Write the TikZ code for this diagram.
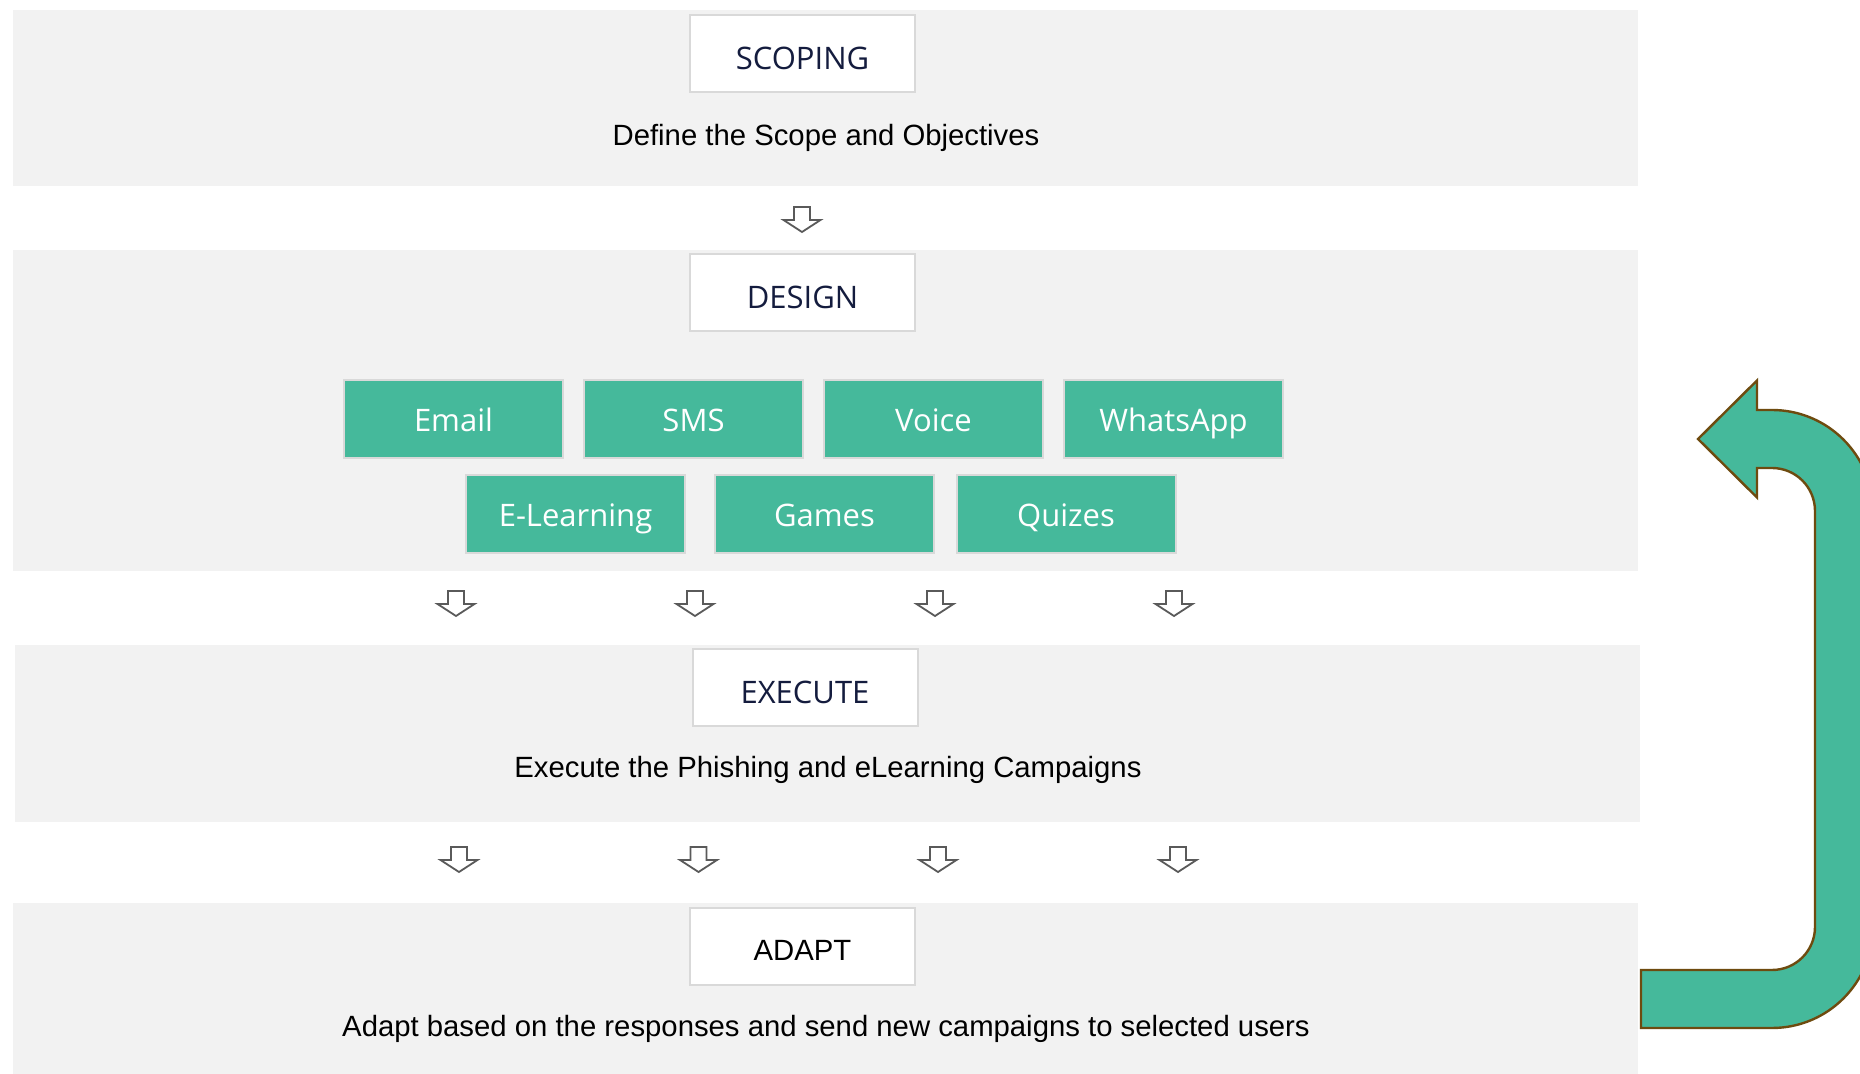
\documentclass[tikz,border=0pt]{standalone}
\usepackage{fontspec}
\setmainfont{Liberation Sans}
\newfontfamily\segoe{Open Sans}
\usepackage{tikz}
\usetikzlibrary{calc,positioning}
\definecolor{bandgray}{HTML}{F2F2F2}
\definecolor{boxline}{HTML}{D9D9D9}
\definecolor{chanfill}{RGB}{69,185,155}
\definecolor{navy}{RGB}{20,28,62}
\definecolor{arrowgray}{RGB}{90,90,90}
\definecolor{loopline}{RGB}{110,75,15}
\tikzset{
  band/.style={fill=bandgray,draw=none},
  stage/.style={draw=boxline,line width=1pt,fill=white,minimum width=112.5pt,minimum height=38.5pt,inner sep=0pt,text height=16pt,text depth=0pt,font=\segoe\fontsize{15.5}{18}\selectfont,text=navy},
  chan/.style={draw=boxline,line width=1pt,fill=chanfill,minimum width=109.5pt,minimum height=39pt,inner sep=0pt,text height=12.5pt,text depth=0pt,font=\segoe\fontsize{15.5}{18}\selectfont,text=white},
  desc/.style={font=\fontsize{14.65}{17}\selectfont,text=black},
  downarr/.pic={\draw[fill=white,draw=arrowgray,line width=0.9pt] (-8,0) -- (8,0) -- (8,13) -- (18.5,13) -- (0,25) -- (-18.5,13) -- (-8,13) -- cycle;}
}
\begin{document}
\begin{tikzpicture}[x=0.5pt,y=-0.5pt]
\clip (0,0) rectangle (1860,1074);
\fill[white] (0,0) rectangle (1860,1074);
\fill[band] (13,10) rectangle (1638,186);
\fill[band] (13,250) rectangle (1638,571);
\fill[band] (15,645) rectangle (1640,822);
\fill[band] (13,903) rectangle (1638,1074);
\node[stage] (scoping) at (802.5,53.5) {SCOPING};
\node[desc] (scopetext) at (826,137.5) {Define the Scope and Objectives};
\node[stage] (design) at (802.5,293) {DESIGN};
\node[chan] (email) at (453.5,419.5) {Email};
\node[chan] (sms) at (693.5,419.5) {SMS};
\node[chan] (voice) at (933.5,419.5) {Voice};
\node[chan] (whatsapp) at (1173.5,419.5) {WhatsApp};
\node[chan] (elearning) at (575.5,514) {E-Learning};
\node[chan] (games) at (824.5,514) {Games};
\node[chan] (quizes) at (1066,514) {Quizes};
\node[stage] (execute) at (805,688) {EXECUTE};
\node[desc] (executetext) at (828,770) {Execute the Phishing and eLearning Campaigns};
\node[stage,font=\fontsize{14.65}{17}\selectfont,text=black,text height=14.5pt] (adapt) at (802.5,946.5) {ADAPT};
\node[desc] (adapttext) at (826,1028.5) {Adapt based on the responses and send new campaigns to selected users};
\pic at (802,207) {downarr};
\foreach \x in {456,695,935,1174} \pic at (\x,591) {downarr};
\foreach \x in {459,698.5,938,1178} \pic at (\x,847) {downarr};
\draw[fill=chanfill,draw=loopline,line width=1.2pt] (1641,1028) -- (1772,1028)
  arc[start angle=90,end angle=0,radius=101] -- (1873,511)
  arc[start angle=0,end angle=-90,radius=101] -- (1757,410) -- (1757,380.5) -- (1698,439) -- (1757,497.5) -- (1757,468) -- (1772,468)
  arc[start angle=-90,end angle=0,radius=43] -- (1815,927)
  arc[start angle=0,end angle=90,radius=43] -- (1641,970) -- cycle;
\end{tikzpicture}
\end{document}
